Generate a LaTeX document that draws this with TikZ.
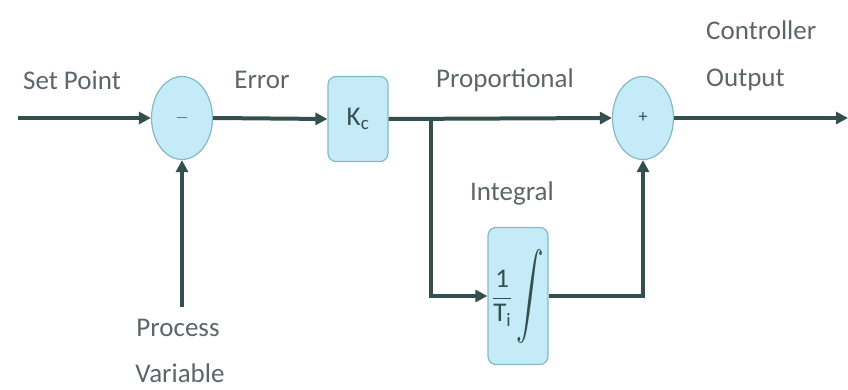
\documentclass[tikz,border=0pt]{standalone}
\usepackage{fontspec}
\setmainfont{Carlito}
\usepackage{amsmath}
\usetikzlibrary{arrows.meta,shapes.geometric}

\definecolor{LineCol}{HTML}{33504F}
\definecolor{EdgeCol}{HTML}{86B9C6}
\definecolor{BlockFill}{HTML}{C4EBF7}
\definecolor{TextCol}{HTML}{5C6669}

\begin{document}
\begin{tikzpicture}[
    % Environment Config
    x=1pt,y=-1pt,
    font=\fontsize{27}{32}\selectfont,
    Signal/.style={% Style for the signal lines
      -{Triangle[length=12pt,width=12pt]},
      draw=LineCol,
      line width=4pt
    },
    Summer/.style={% Style for the summing junctions
      ellipse,
      draw=EdgeCol,
      fill=BlockFill,
      line width=1.2pt,
      minimum width=61pt,
      minimum height=83pt,
      inner sep=0pt,
      text=LineCol,
      font=\fontsize{18}{20}\selectfont
    },
    Block/.style={% Style for the blocks
      rectangle,
      rounded corners=8pt,
      draw=EdgeCol,
      fill=BlockFill,
      line width=1.2pt,
      minimum width=60pt,
      inner sep=0pt,
      text=LineCol
    },
    Tag/.style={% Style for the texts
      text=TextCol,
      inner sep=0pt
    }
  ]

  \useasboundingbox (0,0) rectangle (848,390);

  % Put the blocks in position
  \node[Summer] (Sum1) at (182,118) {$-$};
  \node[Block,minimum height=85pt] (Gain) at (358,119) {K$_\text{c}$};
  \node[Summer] (Sum2) at (643,118) {+};
  \node[Block,minimum height=137pt] (Integ) at (518,296)
    {$\dfrac{\text{1}}{\text{T}_\text{i}}\,\raisebox{-2pt}{\scalebox{1.1}[1.7]{$\displaystyle\int$}}$};

  % Put the free ends
  \coordinate (SP) at (18,118);
  \coordinate (PV) at (182,307);
  \coordinate (Branch) at (431,118);
  \coordinate (Out) at (848,118);

  % Texts
  \node[Tag] (SPtext) at (72,80) {Set Point};
  \node[Tag] (Errtext) at (262,80) {Error};
  \node[Tag] (Proptext) at (505,80) {Proportional};
  \node[Tag] (Inttext) at (512,193) {Integral};
  \node[Tag,anchor=west] (Ctrltext) at (706,30) {Controller};
  \node[Tag,anchor=west] (Outtext) at (706,80) {Output};
  \node[Tag] (PVtext1) at (178,328) {Process};
  \node[Tag] (PVtext2) at (180,373) {Variable};

  % Draw the signals
  \draw[Signal] (SP) -- (Sum1.west);
  \draw[Signal] (PV) -- (Sum1.south);
  \draw[Signal] (Sum1.east) -- (Gain.west);
  \draw[Signal] (Gain.east) -- (Sum2.west);
  \draw[Signal] (Branch) |- (Integ.west);
  \draw[Signal] (Integ.east) -| (Sum2.south);
  \draw[Signal] (Sum2.east) -- (Out);

\end{tikzpicture}
\end{document}
